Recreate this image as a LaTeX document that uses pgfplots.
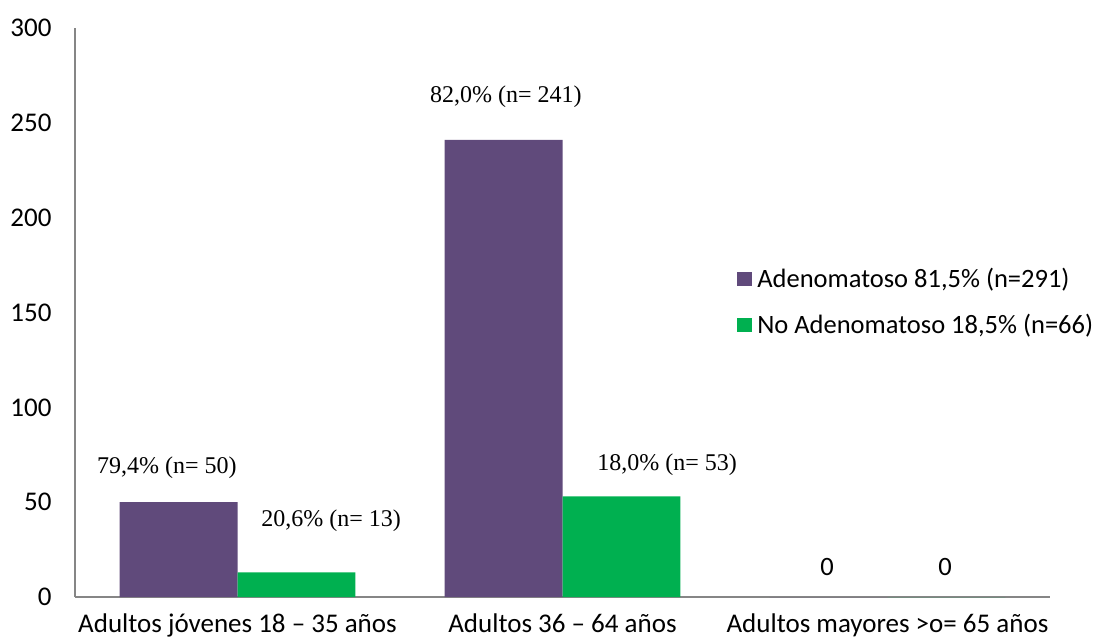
\documentclass[border=0pt]{standalone}
\usepackage{fontspec}
\setmainfont{Carlito}
\newfontfamily\tnr{Liberation Serif}
\usepackage{pgfplots}
\pgfplotsset{compat=1.18}
\definecolor{cpurple}{HTML}{604A7B}
\definecolor{cgreen}{HTML}{00B050}
\definecolor{axgray}{HTML}{868686}
\begin{document}
\begin{tikzpicture}
\useasboundingbox (-75pt,-45pt) rectangle (1030pt,597pt);
\begin{axis}[
 scale only axis, width=975pt, height=569pt,
 xmin=-0.5, xmax=2.5, ymin=0, ymax=300,
 axis x line=bottom, axis y line=left,
 axis line style={axgray, line width=1.2pt, -},
 ytick={0,50,...,300}, xtick={0,1,2},
 xticklabels={Adultos jóvenes 18 – 35 años, Adultos 36 – 64 años, Adultos mayores >o= 65 años},
 major tick length=0pt,
 tick style={draw=none},
 ticklabel style={font=\fontsize{27}{31}\selectfont},
 /pgf/number format/assume math mode=true,
 yticklabel style={xshift=-20pt},
 xticklabel style={yshift=-13pt},
 ybar=0pt, bar width=0.363,
 legend style={draw=none, fill=none, at={(0.676,0.585)}, anchor=north west,
   font=\fontsize{26.5}{30}\selectfont, row sep=21pt},
 legend cell align=left,
 legend image code/.code={\fill[#1] (0pt,-7pt) rectangle (15pt,7pt); \path (18pt,0pt);},
]
\addplot[fill=cpurple, draw=none, bar shift=-0.1815] coordinates {(0,50) (1,241) (2,0)};
\addlegendentry{Adenomatoso 81,5\% (n=291)}
\addplot[fill=cgreen, draw=none, bar shift=0.1815] coordinates {(0,13) (1,53) (2,0)};
\addlegendentry{No Adenomatoso 18,5\% (n=66)}
\node[font=\tnr\fontsize{24}{28}\selectfont] at (axis cs:-0.217,68) {79,4\% (n= 50)};
\node[font=\tnr\fontsize{24}{28}\selectfont] at (axis cs:0.288,40) {20,6\% (n= 13)};
\node[font=\tnr\fontsize{24}{28}\selectfont] at (axis cs:0.826,263.6) {82,0\% (n= 241)};
\node[font=\tnr\fontsize{24}{28}\selectfont] at (axis cs:1.322,70) {18,0\% (n= 53)};
\node[font=\fontsize{26.5}{30}\selectfont] at (axis cs:1.814,15.8) {0};
\node[font=\fontsize{26.5}{30}\selectfont] at (axis cs:2.177,15.8) {0};
\end{axis}
\end{tikzpicture}
\end{document}
